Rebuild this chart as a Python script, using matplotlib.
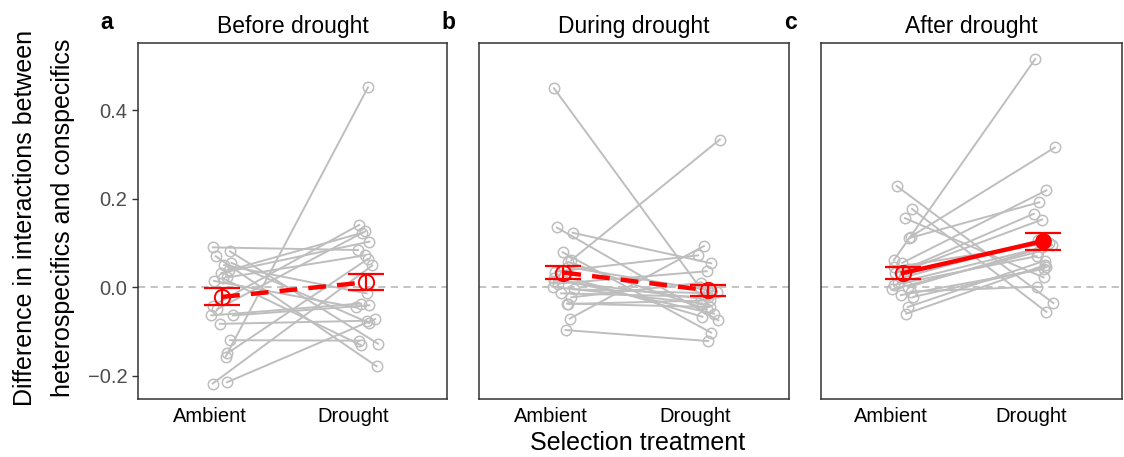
import matplotlib.pyplot as plt

plt.rcParams['font.family'] = ['Liberation Sans', 'DejaVu Sans']

groups = ['Ambient', 'Drought']
titles = ['Before drought', 'During drought', 'After drought']
letters = ['a', 'b', 'c']

# paired values (ambient, drought) per population
before_amb = [0.090, 0.081, 0.070, 0.055, 0.050, 0.038, 0.032, 0.022, 0.014, 0.020,
              -0.042, -0.050, -0.064, -0.064, -0.083, -0.120, -0.150, -0.157, -0.218, -0.215]
before_dro = [0.084, -0.128, -0.179, -0.081, -0.014, 0.123, 0.103, 0.072, -0.046, -0.131,
              0.141, 0.126, -0.037, -0.041, -0.076, -0.121, 0.064, 0.452, 0.049, -0.072]

during_amb = [0.450, 0.061, 0.135, 0.123, -0.097, -0.071, 0.079, 0.057, 0.035, 0.025,
              0.015, 0.008, 0.001, -0.005, -0.014, -0.023, -0.038, -0.037, 0.020, 0.045]
during_dro = [0.000, 0.334, -0.075, 0.054, -0.122, 0.093, -0.103, -0.050, 0.072, -0.067,
              -0.026, 0.036, -0.037, -0.014, -0.022, 0.010, -0.030, -0.045, -0.060, -0.010]

after_amb = [0.061, 0.114, 0.229, 0.177, 0.156, 0.111, 0.055, 0.040, 0.031, 0.022,
             0.005, 0.010, -0.005, -0.022, -0.018, -0.010, -0.045, -0.060, 0.045, 0.000]
after_dro = [0.516, 0.316, -0.036, -0.056, 0.022, 0.192, 0.219, 0.153, 0.166, 0.106,
             0.070, 0.090, 0.080, 0.045, 0.041, 0.001, 0.060, 0.050, 0.100, 0.095]

# horizontal jitter of the points
jit_amb = [0.02, 0.14, 0.04, 0.15, 0.10, 0.13, 0.08, 0.12, 0.03, 0.09,
           0.02, 0.05, 0.01, 0.16, 0.07, 0.14, 0.12, 0.11, 0.02, 0.12]
jit_dro = [0.03, 0.17, 0.16, 0.11, 0.09, 0.06, 0.11, 0.08, 0.02, 0.05,
           0.04, 0.08, 0.05, 0.11, 0.09, 0.04, 0.10, 0.10, 0.13, 0.15]

# group means and standard errors
means = [(-0.022, 0.011), (0.033, -0.007), (0.032, 0.104)]
ses = [(0.019, 0.018), (0.014, 0.012), (0.014, 0.019)]
significant = [False, False, True]

data = [(before_amb, before_dro), (during_amb, during_dro), (after_amb, after_dro)]

fig = plt.figure(figsize=(11.24, 4.57), dpi=100)
lefts = [138, 479, 821]
widths = [309, 310, 301]
axes = []
for i in range(3):
    ax = fig.add_axes([lefts[i] / 1124, 1 - 399 / 457, widths[i] / 1124, (399 - 42.7) / 457])
    axes.append(ax)

grey = '#BEBEBE'
for i, ax in enumerate(axes):
    amb, dro = data[i]
    ax.axhline(0, color=grey, lw=1.3, ls=(0, (4, 3)), zorder=1)
    for k in range(len(amb)):
        xs = [1 + jit_amb[k], 2 + jit_dro[k]]
        ax.plot(xs, [amb[k], dro[k]], color=grey, lw=1.4, zorder=2)
        ax.plot(xs, [amb[k], dro[k]], 'o', ms=7.5, mfc='none', mec=grey, mew=1.1, zorder=3)

    mx = [1.085, 2.085]
    ls = '-' if significant[i] else (0, (4, 2.5))
    ax.plot(mx, means[i], color='red', lw=3.2, ls=ls, zorder=4)
    ax.errorbar(mx, means[i], yerr=ses[i], fmt='none', ecolor='red', elinewidth=1.6,
                capsize=13, capthick=1.6, zorder=5)
    if significant[i]:
        ax.plot([mx[0]], [means[i][0]], 'o', ms=11, mfc='none', mec='red', mew=1.4, zorder=6)
        ax.plot([mx[1]], [means[i][1]], 'o', ms=11, color='red', zorder=6)
    else:
        ax.plot(mx, means[i], 'o', ms=11, mfc='none', mec='red', mew=1.4, zorder=6)

    ax.set_xlim(0.5, 2.65)
    ax.set_ylim(-0.253, 0.553)
    ax.set_xticks([1, 2])
    ax.set_xticklabels(groups, fontsize=14.5, color='black')
    ax.tick_params(axis='x', length=0, pad=6)
    ax.set_yticks([-0.2, 0.0, 0.2, 0.4])
    if i == 0:
        ax.set_yticklabels(['\u22120.2', '0.0', '0.2', '0.4'], fontsize=14.5, color='#4D4D4D')
        ax.tick_params(axis='y', length=4, color='#333333', width=1)
    else:
        ax.tick_params(axis='y', left=False, labelleft=False)
    for s in ax.spines.values():
        s.set_color('#333333')
        s.set_linewidth(1.1)
    ax.set_title(titles[i], fontsize=16.5, pad=7)
    ax.text(-0.1, 1.025, letters[i], transform=ax.transAxes, fontsize=16.5,
            fontweight='bold', ha='center', va='bottom')

fig.text(25 / 1124, 1 - 218 / 457, 'Difference in interactions between', rotation=90,
         ha='center', va='center', fontsize=18)
fig.text(63 / 1124, 1 - 218 / 457, 'heterospecifics and conspecifics', rotation=90,
         ha='center', va='center', fontsize=18)
fig.text(638 / 1124, 1 - 443 / 457, 'Selection treatment', ha='center', va='center', fontsize=18)

fig.savefig('out.png', dpi=100)
